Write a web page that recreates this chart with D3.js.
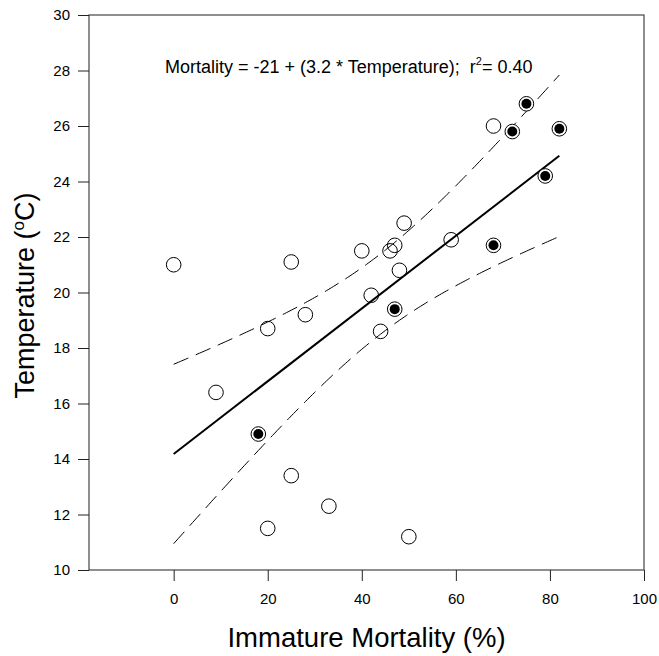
<!DOCTYPE html>
<html lang="en">
<head>
<meta charset="utf-8">
<title>Immature mortality vs temperature</title>
<script src="https://cdn.jsdelivr.net/npm/d3@7"></script>
<style>
  body { margin: 0; background: #fff; }
  text { font-family: Arial, "Liberation Sans", sans-serif; fill: #000; }
</style>
</head>
<body>
<script>
// data
var openMortality = [0, 9, 20, 25, 28, 25, 20, 33, 50, 40, 42, 44, 46, 47, 48, 49, 59, 68];
var openTemp      = [21.0, 16.4, 18.7, 21.1, 19.2, 13.4, 11.5, 12.3, 11.2, 21.5, 19.9, 18.6, 21.5, 21.7, 20.8, 22.5, 21.9, 26.0];
var filledMortality = [18, 47, 68, 72, 75, 79, 82];
var filledTemp      = [14.9, 19.4, 21.7, 25.8, 26.8, 24.2, 25.9];
var xTicks = [0, 20, 40, 60, 80, 100];
var yTicks = [10, 12, 14, 16, 18, 20, 22, 24, 26, 28, 30];

var W = 659, H = 656;
var pLeft = 89, pRight = 644, pTop = 15, pBottom = 570;

var svg = d3.select("body").append("svg").attr("width", W).attr("height", H);

var x = d3.scaleLinear().domain([-18, 100]).range([pLeft, pRight]);
var y = d3.scaleLinear().domain([10, 30]).range([pBottom, pTop]);

// frame
svg.append("rect")
  .attr("x", pLeft).attr("y", pTop)
  .attr("width", pRight - pLeft).attr("height", pBottom - pTop)
  .attr("fill", "none").attr("stroke", "#444").attr("stroke-width", 1.2);

var xAxis = d3.axisBottom(x).tickValues(xTicks).tickSizeInner(11).tickSizeOuter(0).tickPadding(12);
var gx = svg.append("g").attr("transform", "translate(0," + pBottom + ")").call(xAxis);
var yAxis = d3.axisLeft(y).tickValues(yTicks).tickSizeInner(11).tickSizeOuter(0).tickPadding(8);
var gy = svg.append("g").attr("transform", "translate(" + pLeft + ",0)").call(yAxis);
[gx, gy].forEach(function(g) {
  g.attr("font-size", null).attr("font-family", null);
  g.select(".domain").remove();
  g.selectAll("line").attr("stroke", "#222");
  g.selectAll("text").style("font-size", "15px");
});

// linear fit of temperature on mortality with 95% confidence band
var allX = openMortality.concat(filledMortality);
var allY = openTemp.concat(filledTemp);
var n = allX.length;
var mx = d3.mean(allX), my = d3.mean(allY);
var sxx = d3.sum(allX, function(v) { return (v - mx) * (v - mx); });
var sxy = d3.sum(allX, function(v, i) { return (v - mx) * (allY[i] - my); });
var slope = sxy / sxx, icpt = my - slope * mx;
var sse = d3.sum(allX, function(v, i) { var r = allY[i] - (icpt + slope * v); return r * r; });
var s = Math.sqrt(sse / (n - 2));
var t = 2.069;
var xs = d3.range(0, 82.01, 0.5);
function half(v) { return t * s * Math.sqrt(1 / n + (v - mx) * (v - mx) / sxx); }

var line = d3.line().x(function(d) { return x(d[0]); }).y(function(d) { return y(d[1]); });

svg.append("path")
  .attr("d", line(xs.map(function(v) { return [v, icpt + slope * v + half(v)]; })))
  .attr("fill", "none").attr("stroke", "#000").attr("stroke-width", 1).attr("stroke-dasharray", "16,8");
svg.append("path")
  .attr("d", line(xs.map(function(v) { return [v, icpt + slope * v - half(v)]; })))
  .attr("fill", "none").attr("stroke", "#000").attr("stroke-width", 1).attr("stroke-dasharray", "16,8");
svg.append("path")
  .attr("d", line([[0, icpt], [82, icpt + slope * 82]]))
  .attr("fill", "none").attr("stroke", "#000").attr("stroke-width", 2);

// points
svg.selectAll(".open").data(openMortality).enter().append("circle")
  .attr("class", "open")
  .attr("cx", function(d) { return x(d); })
  .attr("cy", function(d, i) { return y(openTemp[i]); })
  .attr("r", 7.3).attr("fill", "none").attr("stroke", "#000").attr("stroke-width", 1);

svg.selectAll(".ring").data(filledMortality).enter().append("circle")
  .attr("class", "ring")
  .attr("cx", function(d) { return x(d); })
  .attr("cy", function(d, i) { return y(filledTemp[i]); })
  .attr("r", 7.3).attr("fill", "#fff").attr("stroke", "#000").attr("stroke-width", 1);
svg.selectAll(".dot").data(filledMortality).enter().append("circle")
  .attr("class", "dot")
  .attr("cx", function(d) { return x(d); })
  .attr("cy", function(d, i) { return y(filledTemp[i]); })
  .attr("r", 5).attr("fill", "#000");

// equation
var eq = svg.append("text").attr("x", 165).attr("y", 73).style("font-size", "18px");
eq.append("tspan").text("Mortality = -21 + (3.2 * Temperature);\u00a0\u00a0r");
eq.append("tspan").attr("dy", -8).style("font-size", "11px").text("2");
eq.append("tspan").attr("dy", 8).text("= 0.40");

// axis titles
svg.append("text").attr("x", (x(-18) + x(100)) / 2).attr("y", 647)
  .attr("text-anchor", "middle").style("font-size", "27.5px")
  .text("Immature Mortality (%)");

var yt = svg.append("text")
  .attr("transform", "translate(34," + ((pTop + pBottom) / 2 + 3) + ") rotate(-90)")
  .attr("text-anchor", "middle").style("font-size", "27px");
yt.append("tspan").text("Temperature (");
yt.append("tspan").attr("dy", -10).style("font-size", "17px").text("o");
yt.append("tspan").attr("dy", 10).text("C)");
</script>
</body>
</html>
